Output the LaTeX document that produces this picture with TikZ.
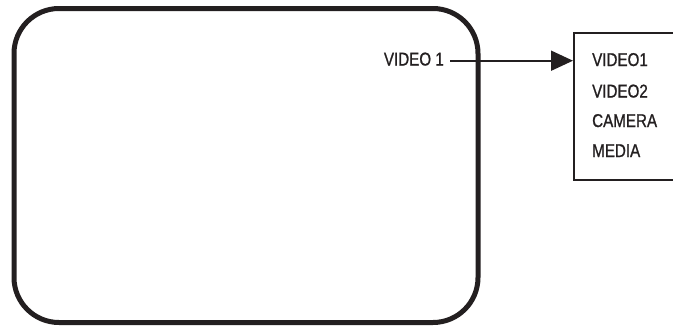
\documentclass[tikz,border=0pt]{standalone}
\usepackage{fontspec}
\setmainfont{Liberation Sans}[FakeStretch=0.82,FakeBold=1]
\usetikzlibrary{arrows.meta,positioning}
\definecolor{tinta}{HTML}{231F20}
\tikzset{
  pantalla/.style={draw=tinta,line width=5pt,rounded corners=45pt,minimum width=464pt,minimum height=314pt,inner sep=0pt},
  menu/.style={draw=tinta,line width=1.6pt,minimum width=130pt,minimum height=147pt,inner sep=0pt,anchor=north west},
  etiqueta/.style={font=\fontsize{18.5}{22}\selectfont,text=tinta,inner sep=0pt},
  flecha/.style={draw=tinta,line width=1.8pt,-{Triangle[length=22pt,width=20pt]}},
}
\begin{document}
\begin{tikzpicture}[x=1pt,y=-1pt]
\useasboundingbox (0,0) rectangle (673,327);
\clip (0,0) rectangle (673,327);
\node[pantalla] (pant) at (246,165.5) {};
\node[menu] (lista) at (573,32) {};
\node[etiqueta,anchor=base east] (vid) at (444,65.5) {VIDEO 1};
\coordinate (ini) at (450,60.7);
\draw[flecha] (ini) -- (ini -| lista.west);
\foreach \txt/\y [count=\i] in {VIDEO1/66,VIDEO2/97.5,CAMERA/127,MEDIA/157}
  \node[etiqueta,anchor=base west] (op\i) at (592,\y) {\txt};
\end{tikzpicture}
\end{document}
